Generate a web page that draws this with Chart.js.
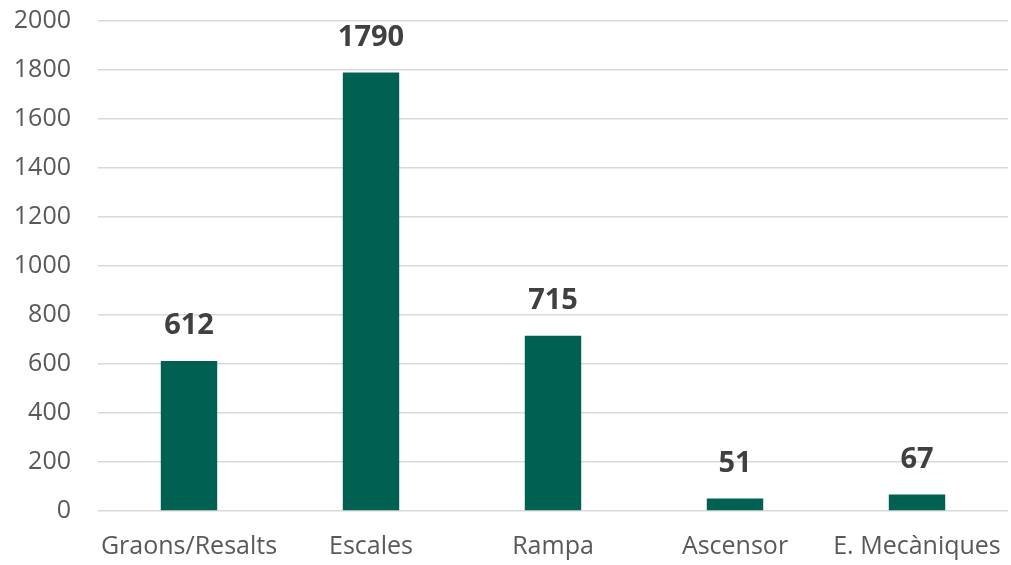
<!DOCTYPE html>
<html>
<head>
<meta charset="utf-8">
<script src="https://cdn.jsdelivr.net/npm/chart.js@4"></script>
<style>
	html, body { margin: 0; padding: 0; background: #ffffff; }
	#wrap { width: 1011px; height: 565px; }
</style>
</head>
<body>
<div id="wrap"><canvas id="myChart"></canvas></div>
<script>
const categories = ["Graons/Resalts", "Escales", "Rampa", "Ascensor", "E. Mecàniques"];
const counts = [612, 1790, 715, 51, 67];
const yTicks = [0, 200, 400, 600, 800, 1000, 1200, 1400, 1600, 1800, 2000];

// draw the value above each bar
const barValues = {
	id: 'barValues',
	afterDatasetsDraw: (chart) => {
		const { ctx } = chart;
		const meta = chart.getDatasetMeta(0);
		ctx.save();
		ctx.font = 'bold 29px "Open Sans", sans-serif';
		ctx.fillStyle = '#404040';
		ctx.textAlign = 'center';
		ctx.textBaseline = 'middle';
		meta.data.forEach((bar, i) => {
			ctx.fillText(String(counts[i]), bar.x, bar.y - 35);
		});
		ctx.restore();
	}
};

const ctx = document.getElementById('myChart').getContext('2d');

const config = {
	type: 'bar',
	data: {
		labels: categories,
		datasets: [{
			data: counts,
			backgroundColor: 'rgb(0, 97, 82)',
			categoryPercentage: 1,
			barPercentage: 0.31
		}]
	},
	options: {
		responsive: true,
		maintainAspectRatio: false,
		animation: false,
		layout: { padding: { top: 21, right: 3, bottom: 0, left: 0 } },
		plugins: {
			legend: { display: false },
			tooltip: { enabled: false }
		},
		scales: {
			x: {
				afterFit: (scale) => {
					scale.height = 54;
					scale.paddingLeft = 0;
					scale.paddingRight = 0;
				},
				grid: { display: false, drawTicks: false },
				border: { display: false },
				ticks: {
					color: '#595959',
					font: { family: '"Open Sans", sans-serif', size: 25 },
					padding: 21,
					maxRotation: 0,
					autoSkip: false
				}
			},
			y: {
				min: 0,
				max: 2000,
				afterBuildTicks: (scale) => {
					scale.ticks = yTicks.map(v => ({ value: v }));
				},
				afterFit: (scale) => {
					scale.width = 98;
					scale.paddingTop = 0;
					scale.paddingBottom = 0;
				},
				grid: { color: '#d9d9d9', lineWidth: 1.5, drawTicks: false },
				border: { display: false },
				ticks: {
					color: '#595959',
					font: { family: '"Open Sans", sans-serif', size: 25 },
					padding: 27,
					callback: (v) => String(v)
				}
			}
		}
	},
	plugins: [barValues]
};

const myChart = new Chart(ctx, config);
</script>
</body>
</html>
